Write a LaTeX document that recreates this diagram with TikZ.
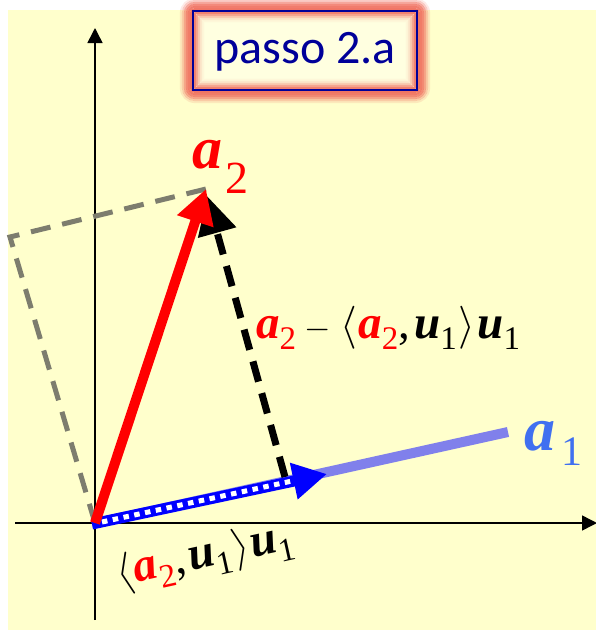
\documentclass[tikz,border=0pt]{standalone}
\usepackage{fontspec}
\setmainfont{Liberation Serif}
\newfontfamily\carlito{Carlito}
\usetikzlibrary{arrows.meta}
\definecolor{bgyellow}{RGB}{255,255,204}
\definecolor{glowred}{RGB}{240,112,95}
\definecolor{titleblue}{RGB}{0,0,153}
\definecolor{lightblue}{RGB}{128,128,235}
\definecolor{aoneblue}{RGB}{64,112,240}
\definecolor{dashgray}{RGB}{125,125,110}
\newcommand{\bv}[1]{{\bfseries\itshape #1}}
\newcommand{\ssub}[3]{\raisebox{-#1}{\fontsize{#2}{#2}\selectfont #3}}
\newcommand{\lang}{{\fontsize{10}{12}\selectfont\scalebox{4.3}{$\langle$}}}
\newcommand{\rang}{{\fontsize{10}{12}\selectfont\scalebox{4.3}{$\rangle$}}}
\newcommand{\mns}{{\fontsize{10}{12}\selectfont\scalebox{3.4}{$-$}}}
\newcommand{\ipexpr}{\lang\kern1pt\textcolor{red}{\bv{a}\ssub{11pt}{33pt}{2}},\kern4pt\bv{u}\ssub{11pt}{33pt}{1}\kern2pt\rang\kern2pt\bv{u}\ssub{11pt}{33pt}{1}}
\begin{document}
\begin{tikzpicture}[x=1pt,y=-1pt,
  axis/.style={line width=1.5pt, -{Triangle[length=15pt,width=15pt]}},
  graydash/.style={dashgray, line width=5pt, dash pattern=on 20pt off 12pt},
  blackdash/.style={black, line width=7pt, dash pattern=on 21pt off 12pt, -{Triangle[length=38pt,width=38pt]}},
  redvec/.style={red, line width=10pt, -{Triangle[length=34pt,width=36pt]}},
  bluevec/.style={blue, line width=11pt, -{Triangle[length=34pt,width=35pt]}},
  lab/.style={inner sep=0pt, anchor=base west}]
\useasboundingbox (0,0) rectangle (596,630);
\fill[bgyellow] (8,10) rectangle (596,630);
% title box with glow
\fill[bgyellow!60!white] (193,11) rectangle (417,90);
\foreach \d/\r/\o in {12/14/0.15,10/12/0.35,8/10/0.6,6/8/0.8,4/6/0.9,2/4/0.95,0/2/0.95,-2/1/0.85,-4/1/0.6,-6/1/0.35,-8/1/0.15,-10/1/0.05}
  \draw[glowred, opacity=\o, line width=2.2pt, rounded corners=\r pt]
    ({193-\d},{11-\d}) rectangle ({417+\d},{90+\d});
\draw[titleblue, line width=1.5pt] (193,11) rectangle (417,90);
\node[text=titleblue, inner sep=0pt] (title) at (305,52) {\carlito\fontsize{48}{48}\selectfont passo 2.a};
% coordinates
\coordinate (O) at (95,523);
\coordinate (Ob) at (92,524);
\coordinate (A2) at (206,189);
\coordinate (A1) at (508,432);
\coordinate (P) at (285,477);
\coordinate (BT) at (207,196);
\coordinate (Q) at (327,474);
\coordinate (Qs) at (102,522);
\coordinate (Qd) at (292,481);
\coordinate (G) at (10,237);
\coordinate (xs) at (15,523);
\coordinate (xe) at (597,523);
\coordinate (ys) at (95,620);
\coordinate (ye) at (95,28);
% axes
\draw[axis] (xs) -- (xe);
\draw[axis] (ys) -- (ye);
% a1 line
\draw[lightblue, line width=10pt] (Ob) -- (A1);
% gray dashed
\draw[graydash] (O) -- (G) -- (A2);
% black dashed
\draw[blackdash] (P) -- (BT);
% projection
\draw[bluevec] (Ob) -- (Q);
\draw[white, line width=5pt, dash pattern=on 5.5pt off 5.5pt] (Qs) -- (Qd);
% a2
\draw[redvec] (O) -- (A2);
% labels
\node[lab, text=red] (la2) at (192,168) {\fontsize{60}{60}\selectfont\bv{a}\kern3pt\ssub{25pt}{46pt}{2}};
\node[lab, text=aoneblue] (la1) at (524,450) {\fontsize{62}{62}\selectfont\bv{a}\kern6pt\ssub{15pt}{42pt}{1}};
\node[lab] (lmid) at (256,338) {\fontsize{47}{47}\selectfont
  \textcolor{red}{\bv{a}\ssub{11pt}{33pt}{2}}\kern8pt\mns\kern10pt\ipexpr};
\node[inner sep=0pt, rotate=12.5] (lbot) at (205,557) {\fontsize{47}{47}\selectfont\ipexpr};
\end{tikzpicture}
\end{document}
